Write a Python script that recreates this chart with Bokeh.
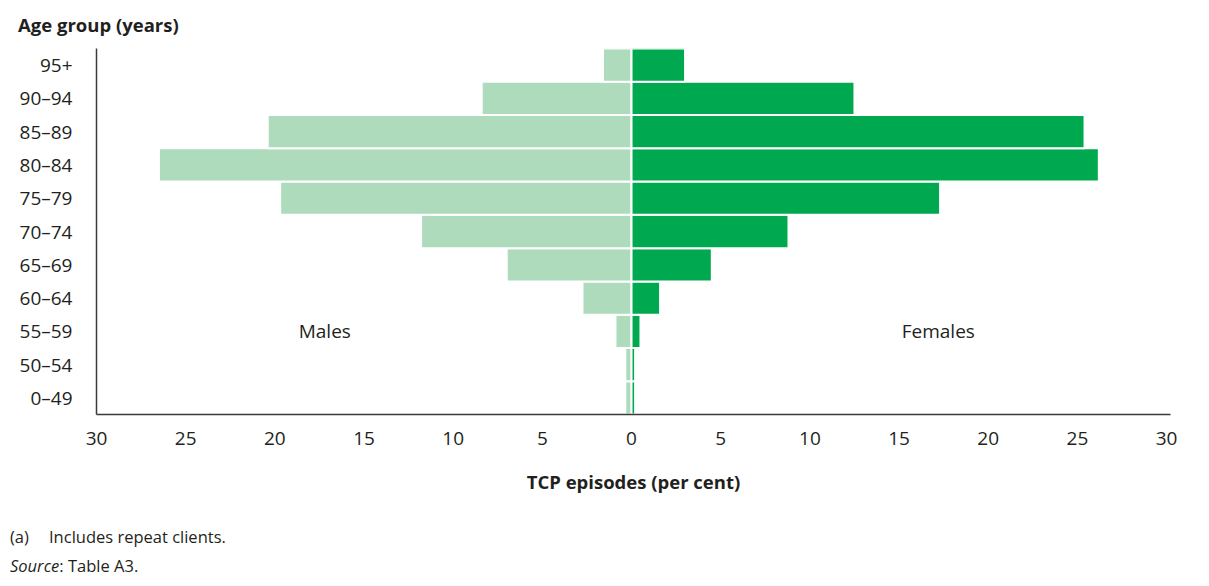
from bokeh.plotting import figure
from bokeh.layouts import column
from bokeh.models import ColumnDataSource, FactorRange, Range1d, FixedTicker, Div
from bokeh.core.properties import value
from bokeh.embed import file_html
from bokeh.resources import INLINE

ages = ["0–49", "50–54", "55–59", "60–64", "65–69", "70–74", "75–79", "80–84", "85–89", "90–94", "95+"]
males = [0.35, 0.35, 0.9, 2.75, 7.0, 11.8, 19.7, 26.5, 20.4, 8.4, 1.6]
females = [0.2, 0.2, 0.5, 1.6, 4.5, 8.8, 17.3, 26.2, 25.4, 12.5, 3.0]
x_ticks = [-30, -25, -20, -15, -10, -5, 0, 5, 10, 15, 20, 25, 30]

FONT = "Open Sans"
TXT = "#231f20"
MALE_C = "#addbbb"
FEMALE_C = "#00a84f"
W = 1200

# top: y-axis title
top = Div(text="<b>Age group (years)</b>", width=W, height=40, margin=(0, 0, 0, 0),
          styles={"font-family": "'Open Sans'", "font-size": "18.5px", "color": TXT,
                  "line-height": "25px", "padding-left": "18px", "padding-top": "12px",
                  "box-sizing": "border-box"})

# main chart
src = ColumnDataSource(dict(age=ages, m=[-v for v in males], f=females))

p = figure(width=W, height=465, output_backend="svg", toolbar_location=None,
           y_range=FactorRange(factors=ages, range_padding=0),
           x_range=Range1d(-30, 30.22),
           min_border_left=96, min_border_right=30, min_border_top=8, min_border_bottom=91)
p.outline_line_color = None
p.grid.visible = False

p.hbar(y="age", left="m", right=0, height=1, source=src, fill_color=MALE_C,
       line_color="white", line_width=2)
p.hbar(y="age", left=0, right="f", height=1, source=src, fill_color=FEMALE_C,
       line_color="white", line_width=2)

xa = p.xaxis[0]
xa.ticker = FixedTicker(ticks=x_ticks)
xa.major_label_overrides = {t: str(abs(t)) for t in x_ticks}
xa.major_tick_out = 0
xa.major_tick_in = 0
xa.minor_tick_out = 0
xa.minor_tick_in = 0
xa.major_label_standoff = 17
xa.major_label_text_font = FONT
xa.major_label_text_font_size = "19px"
xa.major_label_text_color = TXT
xa.axis_line_color = "#3a3a3a"
xa.axis_line_width = 1.5
xa.axis_label = "TCP episodes (per cent)"
xa.axis_label_text_font = FONT
xa.axis_label_text_font_style = "bold"
xa.axis_label_text_font_size = "18.5px"
xa.axis_label_text_color = TXT
xa.axis_label_standoff = 21

ya = p.yaxis[0]
ya.major_tick_out = 0
ya.major_tick_in = 0
ya.major_label_standoff = 24
ya.major_label_text_font = FONT
ya.major_label_text_font_size = "19px"
ya.major_label_text_color = TXT
ya.axis_line_color = "#3a3a3a"
ya.axis_line_width = 1.5

lab_src = ColumnDataSource(dict(x=[-17.2, 17.2], y=["55–59", "55–59"], t=["Males", "Females"]))
p.text(x="x", y="y", text="t", source=lab_src, text_font=value(FONT), text_font_size="19px",
       text_color=TXT, text_align="center", text_baseline="middle")

# bottom: notes
notes_html = (
    '<div><span style="display:inline-block;width:39px">(a)</span>Includes repeat clients.</div>'
    '<div><i>Source</i>: Table A3.</div>'
)
bot = Div(text=notes_html, width=W, height=80, margin=(0, 0, 0, 0),
          styles={"font-family": "'Open Sans'", "font-size": "16.5px", "color": TXT,
                  "line-height": "29px", "padding-left": "10px", "padding-top": "17px",
                  "box-sizing": "border-box"})

layout = column(top, p, bot, spacing=0)
open("out.html", "w").write(file_html(layout, INLINE))
